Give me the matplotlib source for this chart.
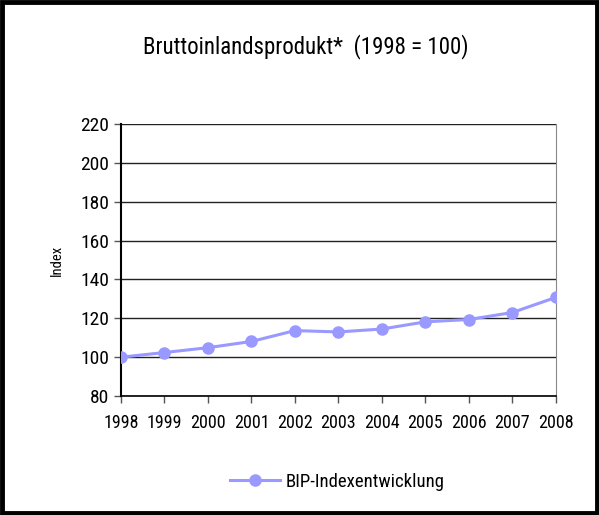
import matplotlib.pyplot as plt
from matplotlib.patches import Rectangle

plt.rcParams['font.family'] = ['Liberation Sans Narrow', 'Roboto Condensed', 'DejaVu Sans']
plt.rcParams['font.stretch'] = 'condensed'

# Daten
jahre = [1998, 1999, 2000, 2001, 2002, 2003, 2004, 2005, 2006, 2007, 2008]
bip_index = [100.0, 102.4, 104.9, 108.1, 113.7, 113.0, 114.5, 118.2, 119.4, 123.0, 130.8]
y_ticks = [80, 100, 120, 140, 160, 180, 200, 220]

fig = plt.figure(figsize=(5.99, 5.15), dpi=100)
ax = fig.add_axes([0.202, 0.231, 0.726, 0.528])

ax.plot(jahre, bip_index, color='#9999FF', linewidth=2.2, marker='o',
        markersize=8, label='BIP-Indexentwicklung', zorder=3)

ax.set_xlim(1998, 2008)
ax.set_ylim(80, 220)
ax.set_yticks(y_ticks)
ax.set_xticks(jahre)
ax.set_xticklabels([str(j) for j in jahre])
ax.grid(axis='y', color='#222222', linewidth=1)
ax.set_axisbelow(True)

ax.spines['top'].set_visible(False)
ax.spines['right'].set_color('#888888')
ax.spines['left'].set_linewidth(1.5)
ax.spines['bottom'].set_linewidth(1.2)
ax.tick_params(axis='both', direction='out', length=5, labelsize=14, width=1, color='#555555')
ax.tick_params(axis='x', labelsize=13, pad=8)

ax.set_ylabel('Index', fontsize=10.5, labelpad=12)

fig.text(0.51, 0.91, 'Bruttoinlandsprodukt*  (1998 = 100)', ha='center', va='center', fontsize=16.5)

fig.legend(loc='center', bbox_to_anchor=(0.563, 0.065), frameon=False, fontsize=13.5,
           handlelength=2.7, handletextpad=0.3)

# Rahmen
fig.patches.append(Rectangle((0.003, 0.003), 0.994, 0.994, transform=fig.transFigure,
                             fill=False, edgecolor='black', linewidth=3.5))

fig.savefig('out.png', dpi=100)
